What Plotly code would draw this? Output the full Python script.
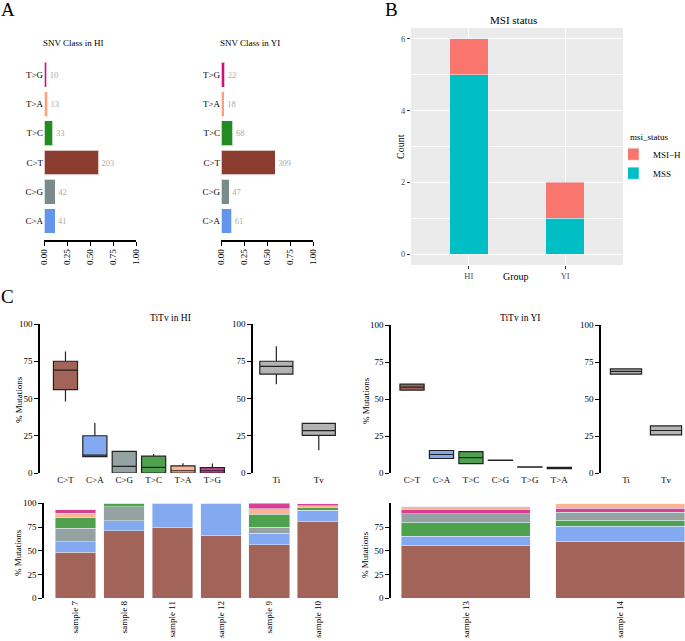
"""Mutation spectrum figure: SNV classes, MSI status and Ti/Tv summaries."""

import plotly.graph_objects as go

W, H = 685, 641
SERIF = "Liberation Serif, Times New Roman, serif"

# ---------------- data ----------------
# panel A: SNV class counts (bottom to top)
snv_classes = ["C>A", "C>G", "C>T", "T>C", "T>A", "T>G"]
hi_counts = [41, 42, 203, 33, 13, 10]
yi_counts = [61, 47, 309, 68, 18, 22]

# panel B: MSI status per group
msi_groups = ["HI", "YI"]
mss_counts = [5, 1]
msih_counts = [1, 1]

# panel C: Ti/Tv boxplots (five-number summaries)
hi_box_classes = ["C>T", "C>A", "C>G", "T>C", "T>A", "T>G"]
hi_box_low = [48, 10.5, 0, 0, 0, 0]
hi_box_q1 = [56, 11, 0, 0, 0, 0]
hi_box_med = [69, 12, 4.5, 3.8, 1.5, 1.5]
hi_box_q3 = [75, 25, 14.5, 11.3, 4.8, 3.6]
hi_box_high = [81.5, 33.5, 14.8, 12.8, 6.5, 6.3]

yi_box_classes = ["C>T", "C>A", "T>C", "C>G", "T>G", "T>A"]
yi_box_q1 = [56, 9.8, 6.4, 8.5, 3.9, 3.0]
yi_box_med = [58, 12.5, 10.4, 8.6, 4.0, 3.4]
yi_box_q3 = [60, 15.2, 14.5, 8.7, 4.1, 3.8]

titv_labels = ["Ti", "Tv"]
hi_titv_low = [59.5, 15.2]
hi_titv_q1 = [66.4, 25.3]
hi_titv_med = [71.6, 28.4]
hi_titv_q3 = [75, 33.3]
hi_titv_high = [85, 33.5]
yi_titv_q1 = [66.8, 25.8]
yi_titv_med = [68.6, 28.7]
yi_titv_q3 = [70.3, 31.8]

# panel C: per-sample percentages (stack order bottom to top)
hi_samples = ["sample 7", "sample 8", "sample 11", "sample 12", "sample 9", "sample 10"]
hi_stack_classes = ["C>T", "C>A", "C>G", "T>C", "T>A", "T>G"]
hi_stack = {
    "C>T": [48.4, 71.2, 74.7, 66.3, 56.1, 80.6],
    "C>A": [11.2, 10.5, 25.3, 33.7, 12.3, 11.6],
    "C>G": [14.1, 14.7, 0, 0, 6.6, 0.3],
    "T>C": [11.1, 3.6, 0, 0, 13.7, 3.3],
    "T>A": [4.7, 0, 0, 0, 5.3, 1.5],
    "T>G": [3.5, 0, 0, 0, 6.0, 2.2],
}
yi_samples = ["sample 13", "sample 14"]
yi_stack_classes = ["C>T", "C>A", "T>C", "C>G", "T>G", "T>A"]
yi_stack = {
    "C>T": [55.8, 60.3],
    "C>A": [9.4, 15.4],
    "T>C": [15.0, 6.3],
    "C>G": [8.8, 8.7],
    "T>G": [4.5, 4.2],
    "T>A": [3.1, 4.6],
}
pct_ticks = [0, 25, 50, 75, 100]

full_cols = {"C>T": "#8B3E2F", "C>G": "#7A8B8B", "C>A": "#6495ED",
             "T>A": "#FFA07A", "T>C": "#228B22", "T>G": "#CD1076"}
soft_cols = {"C>T": "#A26459", "C>G": "#95A2A2", "C>A": "#83AAF1",
             "T>A": "#FFB395", "T>C": "#4EA24E", "T>G": "#D74091"}
titv_col = "#B3B3B3"


def xd(a, b):
    return [a / W, b / W]


def yd(top, bot):
    return [1 - bot / H, 1 - top / H]


def ann(text, x, y, size, angle=0, color="black"):
    return dict(text=text, x=x / W, y=1 - y / H, xref="paper", yref="paper",
                showarrow=False, textangle=angle, xanchor="center", yanchor="middle",
                font=dict(family=SERIF, size=size, color=color))


fig = go.Figure()

# ---- panel A ----
for ax, counts in (("", hi_counts), ("2", yi_counts)):
    total = sum(counts)
    fig.add_trace(go.Bar(
        y=snv_classes, x=[c / total for c in counts], orientation="h",
        marker=dict(color=[full_cols[c] for c in snv_classes],
                    line=dict(color="rgba(255,255,255,0.7)", width=1)),
        width=0.85, text=[str(c) for c in counts], textposition="outside",
        textfont=dict(family=SERIF, size=8.5, color="#AAAAAA"), cliponaxis=False,
        showlegend=False, xaxis="x" + ax, yaxis="y" + ax,
    ))

# ---- panel B ----
fig.add_trace(go.Bar(x=msi_groups, y=mss_counts, name="MSS", marker_color="#00BFC4",
                     width=0.4, xaxis="x3", yaxis="y3"))
fig.add_trace(go.Bar(x=msi_groups, y=msih_counts, name="MSI\u2212H", marker_color="#F8766D",
                     width=0.4, xaxis="x3", yaxis="y3"))

# ---- panel C boxplots ----
box_line = dict(color="#222222", width=1.2)
for i, cls in enumerate(hi_box_classes):
    fig.add_trace(go.Box(
        x=[cls], q1=[hi_box_q1[i]], median=[hi_box_med[i]], q3=[hi_box_q3[i]],
        lowerfence=[hi_box_low[i]], upperfence=[hi_box_high[i]],
        fillcolor=soft_cols[cls], line=box_line, whiskerwidth=0, width=0.82,
        boxpoints=False, showlegend=False, xaxis="x4", yaxis="y4",
    ))
for i, lab in enumerate(titv_labels):
    fig.add_trace(go.Box(
        x=[lab], q1=[hi_titv_q1[i]], median=[hi_titv_med[i]], q3=[hi_titv_q3[i]],
        lowerfence=[hi_titv_low[i]], upperfence=[hi_titv_high[i]],
        fillcolor=titv_col, line=box_line, whiskerwidth=0, width=0.78,
        boxpoints=False, showlegend=False, xaxis="x5", yaxis="y5",
    ))
for i, cls in enumerate(yi_box_classes):
    fig.add_trace(go.Box(
        x=[cls], q1=[yi_box_q1[i]], median=[yi_box_med[i]], q3=[yi_box_q3[i]],
        lowerfence=[yi_box_q1[i]], upperfence=[yi_box_q3[i]],
        fillcolor=soft_cols[cls], line=box_line, whiskerwidth=0, width=0.82,
        boxpoints=False, showlegend=False, xaxis="x6", yaxis="y6",
    ))
for i, lab in enumerate(titv_labels):
    fig.add_trace(go.Box(
        x=[lab], q1=[yi_titv_q1[i]], median=[yi_titv_med[i]], q3=[yi_titv_q3[i]],
        lowerfence=[yi_titv_q1[i]], upperfence=[yi_titv_q3[i]],
        fillcolor=titv_col, line=box_line, whiskerwidth=0, width=0.78,
        boxpoints=False, showlegend=False, xaxis="x7", yaxis="y7",
    ))

# ---- panel C stacked bars ----
for cls in hi_stack_classes:
    fig.add_trace(go.Bar(x=hi_samples, y=hi_stack[cls], marker_color=soft_cols[cls],
                         width=0.84, showlegend=False, xaxis="x8", yaxis="y8"))
for cls in yi_stack_classes:
    fig.add_trace(go.Bar(x=yi_samples, y=yi_stack[cls], marker_color=soft_cols[cls],
                         width=0.835, showlegend=False, xaxis="x9", yaxis="y9"))

# ---- axes ----
tick_font = dict(family=SERIF, size=9, color="black")
base = dict(showgrid=False, zeroline=False, fixedrange=True, automargin=False)
black_axis = dict(showline=True, linecolor="black", linewidth=1.5, ticks="outside",
                  ticklen=4, tickwidth=1.3, tickcolor="black", tickfont=tick_font)
plain_cat = dict(type="category", showline=False, ticks="", tickfont=tick_font)

layout_axes = {}
for ax, dom in (("", xd(44, 136)), ("2", xd(221, 313))):
    layout_axes["xaxis" + ax] = dict(base, **black_axis, domain=dom, range=[0, 1],
                                     tickvals=[0, 0.25, 0.5, 0.75, 1], tickformat=".2f",
                                     tickangle=-90, anchor="y" + ax)
    layout_axes["yaxis" + ax] = dict(base, **plain_cat, domain=yd(60, 240),
                                     range=[-0.65, 5.51], anchor="x" + ax)

grey_tick = dict(family=SERIF, size=8.5, color="#4D4D4D")
layout_axes["xaxis3"] = dict(base, type="category", domain=xd(411, 623), range=[-0.6, 1.6],
                             showgrid=True, gridcolor="white", gridwidth=1.2,
                             ticks="outside", ticklen=3, tickcolor="#333333",
                             tickfont=grey_tick, showline=False, anchor="y3")
layout_axes["yaxis3"] = dict(base, domain=yd(28, 265), range=[-0.3, 6.3], tick0=0, dtick=2,
                             showgrid=True, gridcolor="white", gridwidth=1.2,
                             minor=dict(dtick=1, showgrid=True, gridcolor="white", gridwidth=0.6),
                             ticks="outside", ticklen=3, tickcolor="#333333",
                             tickfont=grey_tick, showline=False, anchor="x3")

box_axes = (
    ("4", xd(40, 230), [-0.867, 5.6], yd(324, 473)),
    ("5", xd(253, 340), [-0.55, 1.5], yd(324, 473)),
    ("6", xd(391, 577), [-0.714, 5.6], yd(325, 473)),
    ("7", xd(601, 684), [-0.625, 1.45], yd(325, 473)),
)
for ax, xdom, xr, ydom in box_axes:
    layout_axes["xaxis" + ax] = dict(base, **plain_cat, domain=xdom, range=xr, anchor="y" + ax)
    layout_axes["yaxis" + ax] = dict(base, **black_axis, domain=ydom, range=[0, 100],
                                     tickvals=pct_ticks, anchor="x" + ax)

stack_axes = (
    ("8", xd(44, 342), [-0.65, 5.5], yd(503.3, 598.3), pct_ticks),
    ("9", xd(391, 685), [-0.485, 1.418], yd(503.3, 598.3), pct_ticks[:-1]),
)
for ax, xdom, xr, ydom, tv in stack_axes:
    layout_axes["xaxis" + ax] = dict(base, **plain_cat, domain=xdom, range=xr,
                                     tickangle=-90, anchor="y" + ax)
    layout_axes["yaxis" + ax] = dict(base, **black_axis, domain=ydom, range=[0, 100],
                                     tickvals=tv, anchor="x" + ax)

annotations = [
    ann("A", 8, 9, 19), ann("B", 391, 9, 19), ann("C", 8, 297, 19),
    ann("SNV Class in HI", 73, 43, 9), ann("SNV Class in YI", 250, 43, 9),
    ann("MSI status", 513, 20, 11),
    ann("Count", 400, 146, 10, angle=-90), ann("Group", 516, 277, 10),
    ann("TiTv in HI", 170, 318, 9.5), ann("TiTv in YI", 520, 318, 9.5),
    ann("% Mutations", 19, 400, 9, angle=-90), ann("% Mutations", 366, 400, 9, angle=-90),
    ann("% Mutations", 18, 553, 9, angle=-90), ann("% Mutations", 365, 555, 9, angle=-90),
]

fig.update_layout(
    width=W, height=H, margin=dict(l=0, r=0, t=0, b=0, autoexpand=False),
    paper_bgcolor="white", plot_bgcolor="white", barmode="stack",
    font=dict(family=SERIF, size=9, color="black"),
    shapes=[dict(type="rect", xref="x3 domain", yref="y3 domain", x0=0, x1=1, y0=0, y1=1,
                 fillcolor="#EBEBEB", line=dict(width=0), layer="below")],
    annotations=annotations,
    legend=dict(x=628 / W, y=1 - 128 / H, xanchor="left", yanchor="top",
                traceorder="reversed", itemwidth=30, tracegroupgap=0, indentation=-15,
                title=dict(text="msi_status", font=dict(family=SERIF, size=9)),
                font=dict(family=SERIF, size=9), bgcolor="rgba(0,0,0,0)"),
    **layout_axes,
)

# drop the browser's default page margin so the figure sits at the window origin
fig.write_html("out.html", config={"displayModeBar": False},
               post_script="document.body.style.margin='0';document.body.style.overflow='hidden';")
